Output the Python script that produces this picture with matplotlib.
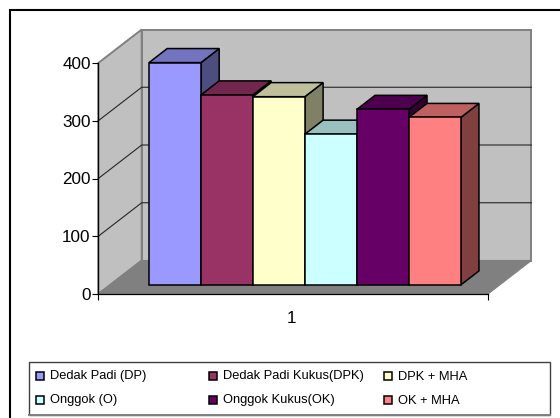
import matplotlib
matplotlib.use("Agg")
import matplotlib.pyplot as plt
from matplotlib.colors import to_rgb
from matplotlib.patches import Polygon, Rectangle
from matplotlib.lines import Line2D

plt.rcParams['font.family'] = ['Liberation Sans', 'DejaVu Sans']

labels = ['Dedak Padi (DP)', 'Dedak Padi Kukus(DPK)', 'DPK + MHA',
          'Onggok (O)', 'Onggok Kukus(OK)', 'OK + MHA']
values = [385, 329, 326, 261, 304, 290]
colors = ['#9999FF', '#993366', '#FFFFCC', '#CCFFFF', '#660066', '#FF8080']
y_ticks = [0, 100, 200, 300, 400]
categories = ['1']

W, H = 560, 418
# front plane of the 3d box, in pixels
LEFT, RIGHT, TOP, BOTTOM = 98.3, 488.0, 63.0, 294.0
# depth of the box in data units
DEPTH_X = 43.4 / (RIGHT - LEFT)
DEPTH_Y = 33.5 * 400 / (BOTTOM - TOP)
BAR_W = 1 / 7.5
BAR_D0, BAR_D1 = 0.27, 0.69


def proj(x, v, d):
    return (x + d * DEPTH_X, v + d * DEPTH_Y)


def shade(c, f):
    return tuple(a * f for a in to_rgb(c))


def face(ax, pts, color, zorder, ec='black', lw=1.1):
    ax.add_patch(Polygon(pts, closed=True, fc=color, ec=ec, lw=lw, zorder=zorder,
                         clip_on=False, joinstyle='miter'))


fig = plt.figure(figsize=(W / 100, H / 100), dpi=100)
ax = fig.add_axes([LEFT / W, 1 - BOTTOM / H, (RIGHT - LEFT) / W, (BOTTOM - TOP) / H])
ax.set_xlim(0, 1)
ax.set_ylim(0, 400)
ax.patch.set_visible(False)

# walls and floor
top_v = y_ticks[-1]
face(ax, [proj(0, 0, 1), proj(1, 0, 1), proj(1, top_v, 1), proj(0, top_v, 1)],
     '#C0C0C0', 1, ec='#808080', lw=1.4)
face(ax, [proj(0, 0, 0), proj(0, 0, 1), proj(0, top_v, 1), proj(0, top_v, 0)],
     '#C0C0C0', 1, ec='#808080', lw=1.4)
face(ax, [proj(0, 0, 0), proj(1, 0, 0), proj(1, 0, 1), proj(0, 0, 1)],
     '#808080', 2, ec='#808080', lw=0.8)

# gridlines run along the side wall, then across the back wall
for v in y_ticks[1:-1]:
    xs, ys = zip(proj(0, v, 0), proj(0, v, 1), proj(1, v, 1))
    ax.plot(xs, ys, color='#262626', lw=0.8, zorder=3, clip_on=False)

# bars, painted left to right so each covers the side of the one before
for i, (val, col) in enumerate(zip(values, colors)):
    x0 = 0.75 * BAR_W + i * BAR_W
    x1 = x0 + BAR_W
    z = 5 + i
    face(ax, [proj(x1, 0, BAR_D0), proj(x1, 0, BAR_D1),
              proj(x1, val, BAR_D1), proj(x1, val, BAR_D0)], shade(col, 0.5), z)
    face(ax, [proj(x0, val, BAR_D0), proj(x1, val, BAR_D0),
              proj(x1, val, BAR_D1), proj(x0, val, BAR_D1)], shade(col, 0.75), z)
    face(ax, [proj(x0, 0, BAR_D0), proj(x1, 0, BAR_D0),
              proj(x1, val, BAR_D0), proj(x0, val, BAR_D0)], col, z)

# axes
for s in ['top', 'right']:
    ax.spines[s].set_visible(False)
ax.spines['left'].set_linewidth(0.9)
ax.spines['bottom'].set_linewidth(0.9)
ax.spines['left'].set_zorder(4)
ax.spines['bottom'].set_zorder(4)
ax.set_yticks(y_ticks)
ax.tick_params(axis='y', length=4.0, width=0.8, labelsize=12.3, pad=1.5, colors='black')
ax.set_xticks([0, 1])
ax.set_xticklabels(['', ''])
ax.tick_params(axis='x', length=4.5, width=0.8)
ax.text(0.497, -0.075, categories[0], transform=ax.transAxes, ha='center', va='top',
        fontsize=12.3)

# outer frame: only top and left are drawn
fig.add_artist(Line2D([10 / W, 10 / W, 1], [0, 1 - 10 / H, 1 - 10 / H],
                      color='black', lw=1.5, solid_joinstyle='miter'))

# legend box and its entries
fig.add_artist(Rectangle((29 / W, 1 - 415 / H), 521 / W, 53 / H, transform=fig.transFigure,
                         fc='white', ec='#404040', lw=1.0))
fig.add_artist(Line2D([29 / W, 550 / W], [1 - 415.3 / H, 1 - 415.3 / H], color='#808080', lw=1.4))
col_x = [36, 209, 384]
row_y = [376, 400]
for i, (lab, col) in enumerate(zip(labels, colors)):
    x = col_x[i % 3]
    y = row_y[i // 3]
    fig.add_artist(Rectangle((x / W, 1 - (y + 4) / H), 8 / W, 8 / H, transform=fig.transFigure,
                             fc=col, ec='black', lw=1.1))
    fig.text((x + 14) / W, 1 - (y + 0.5) / H, lab, fontsize=9.3, va='center', ha='left')

fig.savefig('out.png', dpi=100)
